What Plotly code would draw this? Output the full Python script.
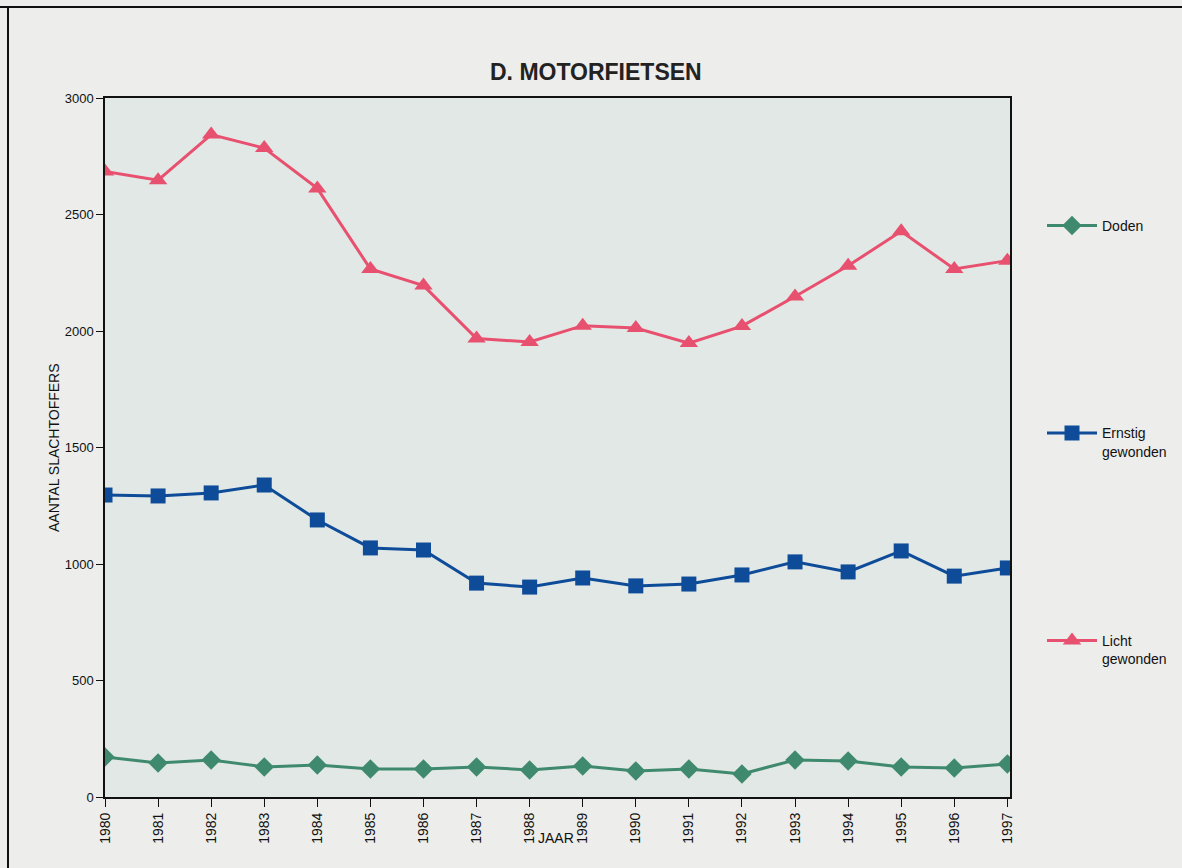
import plotly.graph_objects as go

years = list(range(1980, 1998))
doden = [172, 146, 159, 129, 137, 120, 120, 129, 116, 133, 112, 120, 99, 159, 155, 129, 124, 142]
ernstig = [1296, 1292, 1305, 1339, 1189, 1069, 1060, 918, 901, 940, 906, 914, 953, 1009, 966, 1056, 948, 983]
licht = [2685, 2647, 2843, 2785, 2612, 2266, 2195, 1968, 1953, 2023, 2013, 1948, 2021, 2148, 2280, 2428, 2266, 2302]
y_ticks = [0, 500, 1000, 1500, 2000, 2500, 3000]

W, H = 1182, 868
L, R, T, B = 105, 1010, 98, 797

def px(x):
    return (x - L) / (R - L)

def py(y):
    return (B - y) / (B - T)

fig = go.Figure()
fig.add_trace(go.Scatter(x=years, y=doden, mode="lines+markers", name="Doden<br> ",
                         line=dict(color="#3f8a6f", width=3),
                         marker=dict(symbol="diamond", size=15, color="#3f8a6f"),
                         legendgroup="a"))
fig.add_trace(go.Scatter(x=years, y=ernstig, mode="lines+markers", name="Ernstig<br>gewonden",
                         line=dict(color="#0e4c99", width=3),
                         marker=dict(symbol="square", size=15, color="#0e4c99"),
                         legendgroup="b"))
fig.add_trace(go.Scatter(x=years, y=licht, mode="lines+markers", name="Licht<br>gewonden",
                         line=dict(color="#e8506f", width=3),
                         marker=dict(symbol="triangle-up", size=16, color="#e8506f"),
                         legendgroup="c"))

fig.update_layout(
    width=W, height=H, autosize=False,
    margin=dict(l=L, r=W - R, t=T, b=H - B, autoexpand=False),
    paper_bgcolor="#ededeb",
    plot_bgcolor="#e2e8e5",
    font=dict(family="Liberation Sans, Arial, sans-serif", size=13, color="#111111"),
    showlegend=True,
    legend=dict(x=px(1042), y=py(210), xanchor="left", yanchor="top",
                bgcolor="rgba(0,0,0,0)", tracegroupgap=168, valign="top",
                font=dict(size=14), itemwidth=50),
    xaxis=dict(range=[1980, 1997.05], tickmode="array", tickvals=years,
               ticktext=[str(y) for y in years], tickangle=-90,
               ticks="outside", ticklen=8, tickcolor="#111", showgrid=False,
               zeroline=False, showline=True, linecolor="#111", linewidth=2, mirror=True,
               tickfont=dict(size=14)),
    yaxis=dict(range=[0, 3000], tickmode="array", tickvals=y_ticks,
               ticks="outside", ticklen=7, tickcolor="#111", showgrid=False,
               zeroline=False, showline=True, linecolor="#111", linewidth=1.5, mirror=True,
               tickfont=dict(size=13)),
    annotations=[
        dict(text="<b>D. MOTORFIETSEN</b>", x=px(596), y=py(57), xref="paper", yref="paper",
             showarrow=False, font=dict(size=23, color="#222")),
        dict(text="AANTAL SLACHTOFFERS", x=px(44), y=py(448), xref="paper", yref="paper",
             showarrow=False, textangle=-90, font=dict(size=14)),
        dict(text="JAAR", x=px(556), y=py(848), xref="paper", yref="paper",
             showarrow=False, font=dict(size=14)),
    ],
    shapes=[
        dict(type="line", xref="paper", yref="paper", x0=px(0), x1=px(W), y0=py(7), y1=py(7),
             line=dict(color="#111", width=2)),
        dict(type="line", xref="paper", yref="paper", x0=px(8), x1=px(8), y0=py(7), y1=py(H),
             line=dict(color="#111", width=2)),
    ],
)

fig.write_html("out.html", config={"displayModeBar": False, "responsive": False},
               post_script="document.body.style.margin='0';document.body.style.padding='0';"
                           "document.body.style.overflow='hidden';"
                           "document.documentElement.style.overflow='hidden';")
